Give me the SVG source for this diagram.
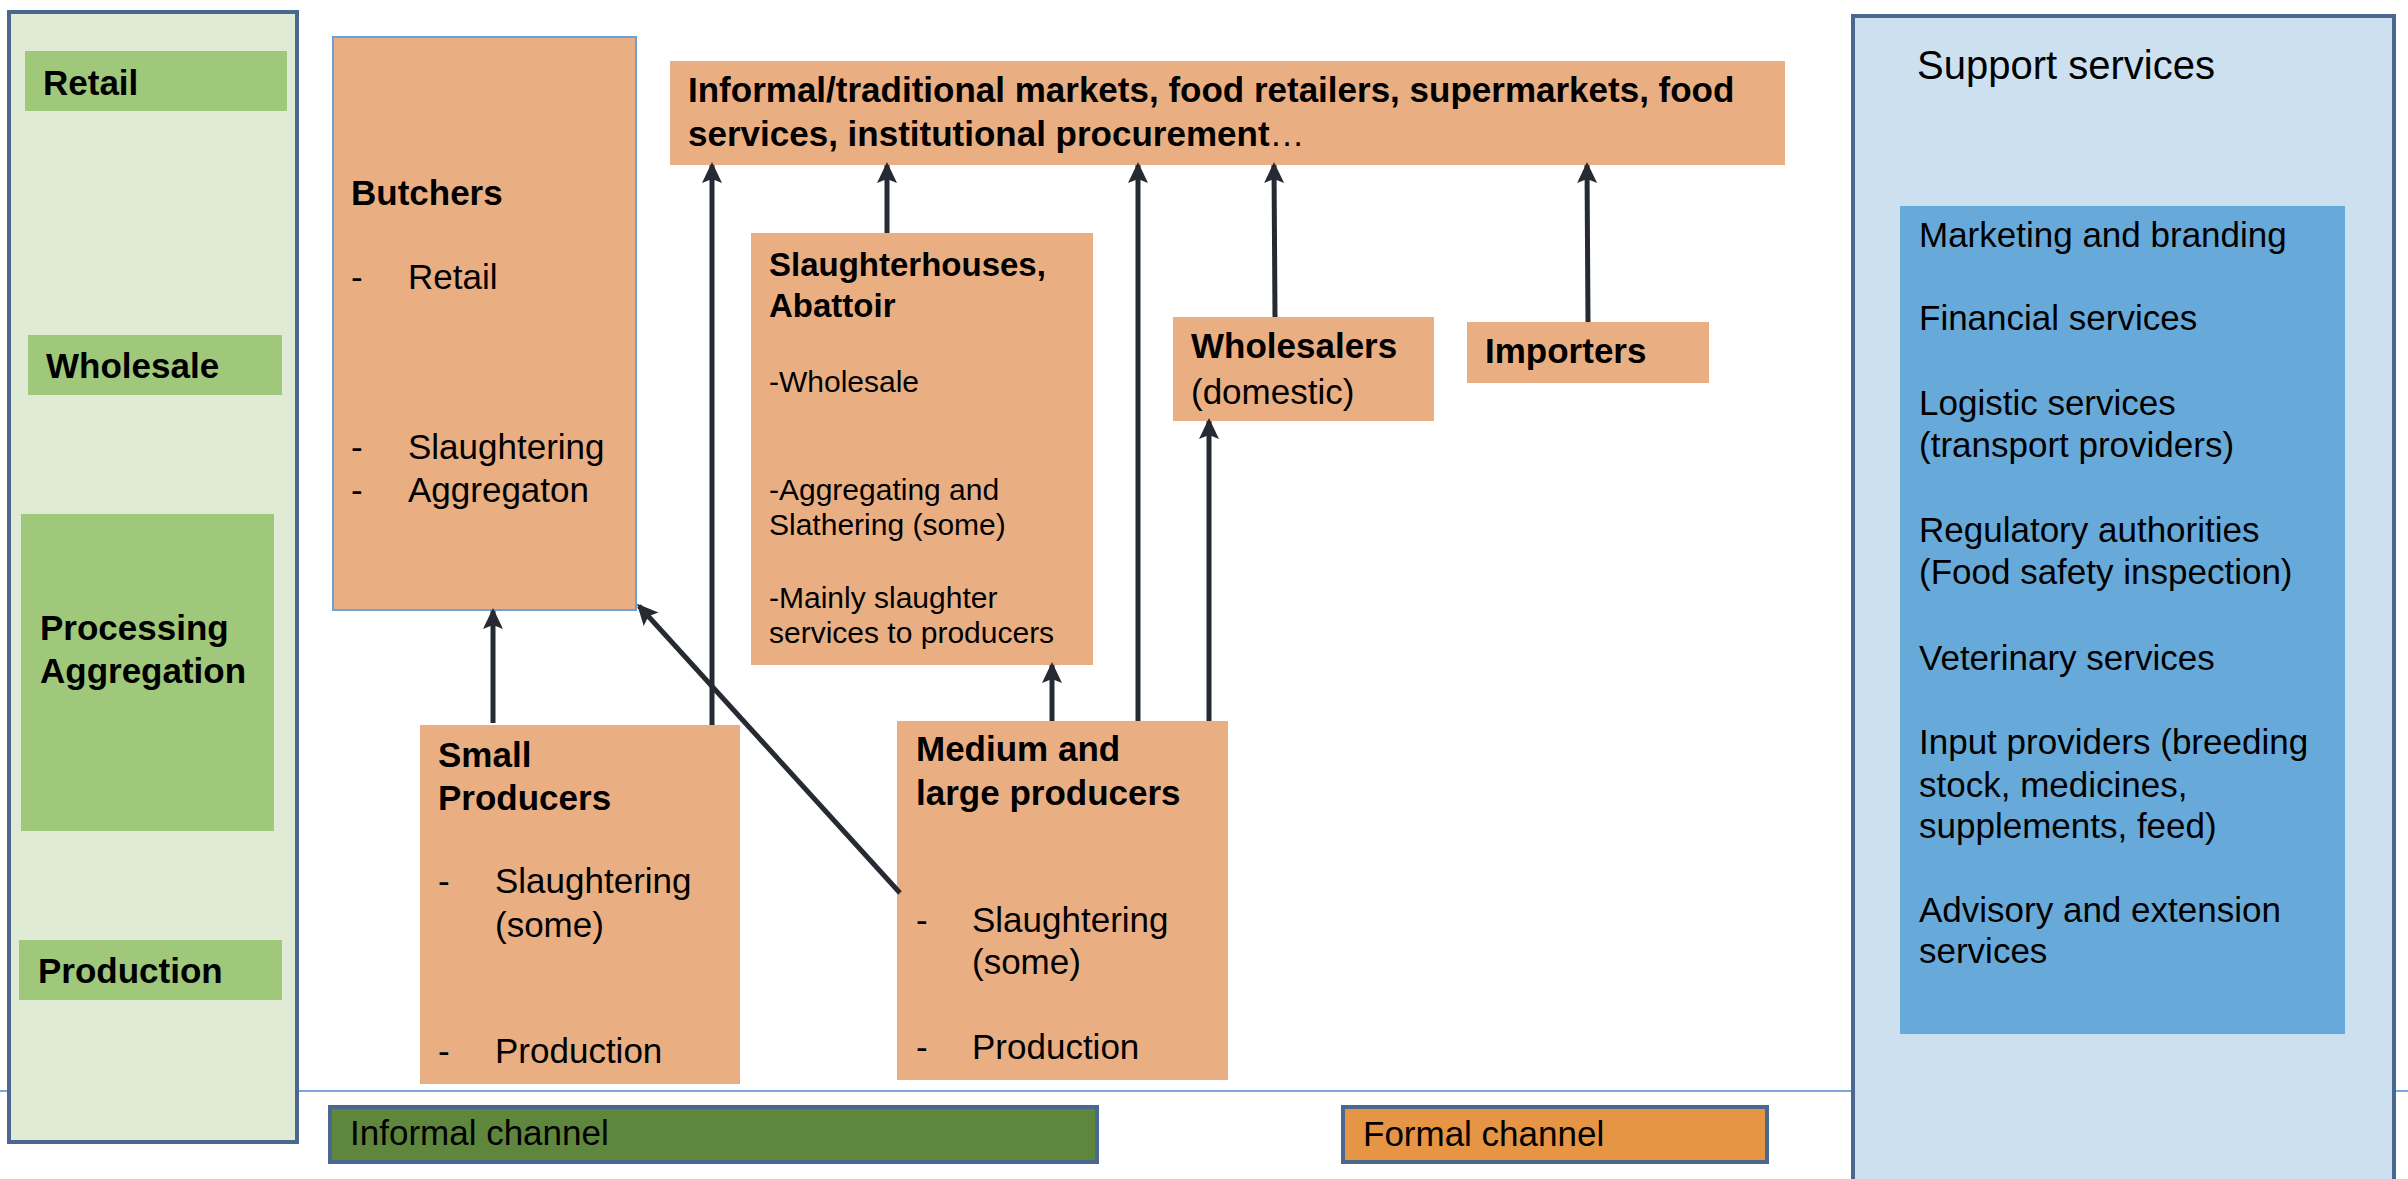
<svg xmlns="http://www.w3.org/2000/svg" width="2408" height="1179" viewBox="0 0 2408 1179">
<defs>
<style>
text{font-family:"Liberation Sans",Arial,sans-serif;fill:#000}
.b{font-weight:bold;font-size:35px}
.r{font-size:35px}
.s{font-size:30px}
.h33{font-weight:bold;font-size:33px}
.org{fill:#e9af83}
.lab{fill:#9fc87b}
.conn line{stroke:#262b33;stroke-width:5;marker-end:url(#ah)}
</style>
<marker id="ah" markerUnits="userSpaceOnUse" markerWidth="24" markerHeight="22" refX="18" refY="10" orient="auto" overflow="visible">
<path d="M0,0 L21,10 L0,20 L4,10 z" fill="#262b33"/>
</marker>
</defs>
<rect width="2408" height="1179" fill="#fff"/>
<line x1="0" y1="1091" x2="2408" y2="1091" stroke="#7ea6d6" stroke-width="2"/>

<g id="stages">
<rect x="9" y="12" width="288" height="1130" fill="#dfebd4" stroke="#4a6790" stroke-width="4"/>
<g id="stage-retail"><rect class="lab" x="25" y="51" width="262" height="60"/><text class="b" x="43" y="95">Retail</text></g>
<g id="stage-wholesale"><rect class="lab" x="28" y="335" width="254" height="60"/><text class="b" x="46" y="378">Wholesale</text></g>
<g id="stage-processing"><rect class="lab" x="21" y="514" width="253" height="317"/><text class="b" x="40" y="640">Processing</text><text class="b" x="40" y="683">Aggregation</text></g>
<g id="stage-production"><rect class="lab" x="19" y="940" width="263" height="60"/><text class="b" x="38" y="983">Production</text></g>
</g>

<g id="butchers">
<rect class="org" x="333" y="37" width="303" height="573" stroke="#6f9fd8" stroke-width="2"/>
<text class="b" x="351" y="205">Butchers</text>
<text class="r" x="351" y="289">-</text><text class="r" x="408" y="289">Retail</text>
<text class="r" x="351" y="459">-</text><text class="r" x="408" y="459">Slaughtering</text>
<text class="r" x="351" y="502">-</text><text class="r" x="408" y="502">Aggregaton</text>
</g>

<g id="markets">
<rect class="org" x="670" y="61" width="1115" height="104"/>
<text class="b" x="688" y="102">Informal/traditional markets, food retailers, supermarkets, food</text>
<text class="b" x="688" y="146">services, institutional procurement<tspan style="font-weight:normal">…</tspan></text>
</g>

<g id="slaughterhouses">
<rect class="org" x="751" y="233" width="342" height="432"/>
<text class="h33" x="769" y="276">Slaughterhouses,</text>
<text class="h33" x="769" y="317">Abattoir</text>
<text class="s" x="769" y="392">-Wholesale</text>
<text class="s" x="769" y="500">-Aggregating and</text>
<text class="s" x="769" y="535">Slathering (some)</text>
<text class="s" x="769" y="608">-Mainly slaughter</text>
<text class="s" x="769" y="643">services to producers</text>
</g>

<g id="wholesalers">
<rect class="org" x="1173" y="317" width="261" height="104"/>
<text class="b" x="1191" y="358">Wholesalers</text>
<text class="r" x="1191" y="404">(domestic)</text>
</g>

<g id="importers">
<rect class="org" x="1467" y="322" width="242" height="61"/>
<text class="b" x="1485" y="363">Importers</text>
</g>

<g id="small-producers">
<rect class="org" x="420" y="725" width="320" height="359"/>
<text class="b" x="438" y="767">Small</text>
<text class="b" x="438" y="810">Producers</text>
<text class="r" x="438" y="893">-</text><text class="r" x="495" y="893">Slaughtering</text>
<text class="r" x="495" y="937">(some)</text>
<text class="r" x="438" y="1063">-</text><text class="r" x="495" y="1063">Production</text>
</g>

<g id="medium-large-producers">
<rect class="org" x="897" y="721" width="331" height="359"/>
<text class="b" x="916" y="761">Medium and</text>
<text class="b" x="916" y="805">large producers</text>
<text class="r" x="916" y="932">-</text><text class="r" x="972" y="932">Slaughtering</text>
<text class="r" x="972" y="974">(some)</text>
<text class="r" x="916" y="1059">-</text><text class="r" x="972" y="1059">Production</text>
</g>

<g id="support-services">
<rect x="1853" y="16" width="541" height="1180" fill="#cce0f0" stroke="#4a6790" stroke-width="4"/>
<text x="1917" y="79" style="font-size:40px">Support services</text>
<rect x="1900" y="206" width="445" height="828" fill="#67aad9"/>
<text class="r" x="1919" y="247">Marketing and branding</text>
<text class="r" x="1919" y="330">Financial services</text>
<text class="r" x="1919" y="415">Logistic services</text>
<text class="r" x="1919" y="457">(transport providers)</text>
<text class="r" x="1919" y="542">Regulatory authorities</text>
<text class="r" x="1919" y="584">(Food safety inspection)</text>
<text class="r" x="1919" y="670">Veterinary services</text>
<text class="r" x="1919" y="754">Input providers (breeding</text>
<text class="r" x="1919" y="797">stock, medicines,</text>
<text class="r" x="1919" y="838">supplements, feed)</text>
<text class="r" x="1919" y="922">Advisory and extension</text>
<text class="r" x="1919" y="963">services</text>
</g>

<g id="legend-informal">
<rect x="330" y="1107" width="767" height="55" fill="#5f863d" stroke="#4a6790" stroke-width="4"/>
<text class="r" x="350" y="1145">Informal channel</text>
</g>
<g id="legend-formal">
<rect x="1343" y="1107" width="424" height="55" fill="#e59543" stroke="#4a6790" stroke-width="4"/>
<text class="r" x="1363" y="1146">Formal channel</text>
</g>

<g id="connectors" class="conn">
<line x1="493" y1="723" x2="493" y2="611"/>
<line x1="712" y1="725" x2="712" y2="165"/>
<line x1="887" y1="233" x2="887" y2="165"/>
<line x1="1052" y1="721" x2="1052" y2="665"/>
<line x1="1138" y1="721" x2="1138" y2="165"/>
<line x1="1209" y1="721" x2="1209" y2="421"/>
<line x1="1275" y1="317" x2="1274" y2="165"/>
<line x1="1588" y1="322" x2="1587" y2="165"/>
<line x1="900" y1="893" x2="639" y2="606"/>
</g>
</svg>
